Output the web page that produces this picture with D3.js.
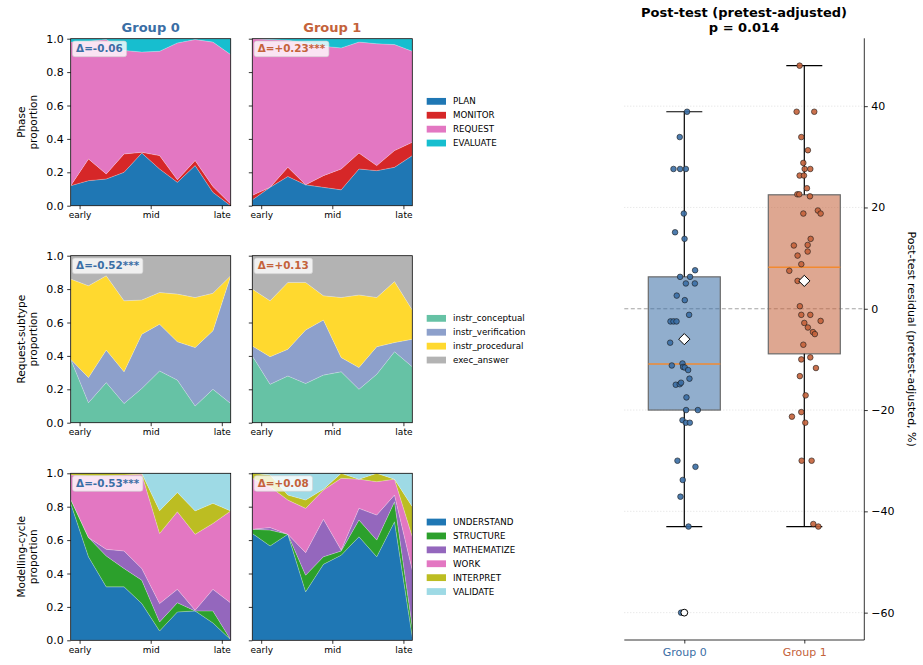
<!DOCTYPE html>
<html><head><meta charset="utf-8">
<script src="https://cdn.jsdelivr.net/npm/d3@7"></script>
<style>body{margin:0;background:#fff;} svg{display:block;font-family:"DejaVu Sans",sans-serif;}</style>
</head><body><svg id="c" width="923" height="665"></svg>
<script>
// ---------------- DATA ----------------
const groups = ["Group 0", "Group 1"];
const groupColors = ["#3a6ea5", "#c4623a"];
const timeTicks = ["early", "mid", "late"];
const timeTickPos = [0.5, 4.5, 8.5];
const yTicks = [0, 0.2, 0.4, 0.6, 0.8, 1.0];

const phaseKeys = ["PLAN", "MONITOR", "REQUEST", "EVALUATE"];
const phaseColors = ["#1f77b4", "#d62728", "#e377c2", "#17becf"];
const phaseG0 = {
  PLAN:     [0.12, 0.15, 0.16, 0.20, 0.315, 0.22, 0.14, 0.24, 0.08, 0.00],
  MONITOR:  [0.00, 0.13, 0.03, 0.11, 0.005, 0.08, 0.015, 0.03, 0.035, 0.01],
  REQUEST:  [0.86, 0.705, 0.805, 0.62, 0.60, 0.625, 0.82, 0.725, 0.865, 0.895],
  EVALUATE: [0.02, 0.015, 0.005, 0.07, 0.08, 0.075, 0.025, 0.005, 0.02, 0.095]
};
const phaseG1 = {
  PLAN:     [0.035, 0.11, 0.175, 0.125, 0.11, 0.095, 0.22, 0.21, 0.23, 0.30],
  MONITOR:  [0.027, 0.00, 0.055, 0.00, 0.07, 0.125, 0.095, 0.03, 0.10, 0.08],
  REQUEST:  [0.938, 0.885, 0.76, 0.85, 0.775, 0.725, 0.665, 0.73, 0.635, 0.545],
  EVALUATE: [0.00, 0.005, 0.01, 0.025, 0.045, 0.055, 0.02, 0.03, 0.035, 0.075]
};

const reqKeys = ["instr_conceptual", "instr_verification", "instr_procedural", "exec_answer"];
const reqColors = ["#66c2a5", "#8da0cb", "#ffd92f", "#b3b3b3"];
const reqG0 = {
  instr_conceptual:   [0.38, 0.12, 0.24, 0.115, 0.205, 0.31, 0.255, 0.10, 0.20, 0.115],
  instr_verification: [0.00, 0.15, 0.195, 0.19, 0.325, 0.28, 0.23, 0.35, 0.35, 0.765],
  instr_procedural:   [0.48, 0.55, 0.445, 0.425, 0.205, 0.19, 0.285, 0.30, 0.225, 0.00],
  exec_answer:        [0.14, 0.18, 0.12, 0.27, 0.265, 0.22, 0.23, 0.25, 0.225, 0.12]
};
const reqG1 = {
  instr_conceptual:   [0.40, 0.23, 0.28, 0.235, 0.285, 0.305, 0.20, 0.29, 0.425, 0.335],
  instr_verification: [0.06, 0.165, 0.16, 0.32, 0.33, 0.085, 0.13, 0.165, 0.055, 0.165],
  instr_procedural:   [0.34, 0.335, 0.40, 0.285, 0.145, 0.36, 0.435, 0.295, 0.365, 0.175],
  exec_answer:        [0.20, 0.27, 0.16, 0.16, 0.24, 0.25, 0.235, 0.25, 0.155, 0.325]
};

const cycKeys = ["UNDERSTAND", "STRUCTURE", "MATHEMATIZE", "WORK", "INTERPRET", "VALIDATE"];
const cycColors = ["#1f77b4", "#2ca02c", "#9467bd", "#e377c2", "#bcbd22", "#9edae5"];
const cycG0 = {
  UNDERSTAND:  [0.82, 0.50, 0.32, 0.32, 0.22, 0.056, 0.17, 0.176, 0.104, 0.004],
  STRUCTURE:   [0.025, 0.115, 0.185, 0.11, 0.14, 0.054, 0.055, 0.00, 0.072, 0.00],
  MATHEMATIZE: [0.00, 0.00, 0.04, 0.105, 0.07, 0.11, 0.08, 0.004, 0.129, 0.22],
  WORK:        [0.145, 0.37, 0.44, 0.455, 0.565, 0.42, 0.465, 0.455, 0.395, 0.551],
  INTERPRET:   [0.01, 0.015, 0.015, 0.01, 0.005, 0.136, 0.115, 0.14, 0.12, 0.00],
  VALIDATE:    [0.00, 0.00, 0.00, 0.00, 0.00, 0.224, 0.115, 0.225, 0.18, 0.225]
};
const cycG1 = {
  UNDERSTAND:  [0.64, 0.565, 0.635, 0.29, 0.455, 0.51, 0.62, 0.50, 0.71, 0.02],
  STRUCTURE:   [0.025, 0.095, 0.00, 0.10, 0.045, 0.025, 0.10, 0.10, 0.12, 0.06],
  MATHEMATIZE: [0.00, 0.015, 0.00, 0.135, 0.225, 0.005, 0.07, 0.15, 0.04, 0.34],
  WORK:        [0.305, 0.245, 0.205, 0.265, 0.175, 0.43, 0.175, 0.20, 0.095, 0.20],
  INTERPRET:   [0.03, 0.07, 0.03, 0.05, 0.005, 0.03, 0.00, 0.05, 0.00, 0.18],
  VALIDATE:    [0.00, 0.01, 0.13, 0.16, 0.095, 0.00, 0.035, 0.00, 0.035, 0.20]
};

const deltaG0 = ["Δ=-0.06", "Δ=-0.52***", "Δ=-0.53***"];
const deltaG1 = ["Δ=+0.23***", "Δ=+0.13", "Δ=+0.08"];
const rowLabels = [["Phase", "proportion"], ["Request-subtype", "proportion"], ["Modelling-cycle", "proportion"]];

// post-test residuals (pretest-adjusted, %)
const g0Vals = [38.9,33.9,27.6,27.6,27.6,18.8,15.1,13.8,7.6,6.3,6.3,5.0,5.0,2.6,1.7,-1.2,-2.5,-2.5,-2.5,-6.7,-11.2,-10.8,-11.5,-11.6,-12.1,-13.8,-15.0,-14.9,-14.6,-17.5,-20.0,-20.0,-22.0,-22.5,-22.5,-30.0,-31.2,-33.8,-37.1,-43.0,-60.0];
const g0Jit = [0.023,-0.038,-0.09,-0.035,0.013,-0.004,-0.077,0.002,0.09,-0.035,0.048,0.013,0.088,-0.063,0.004,0.04,-0.115,-0.09,-0.065,-0.118,-0.104,-0.015,-0.01,0.004,0.032,0.043,-0.071,-0.038,-0.027,0.018,0.015,0.113,-0.015,0.013,0.046,-0.057,0.093,-0.013,-0.032,0.035,-0.027];
const g1Vals = [48.0,38.9,38.9,33.9,31.3,28.8,27.6,27.6,26.3,26.3,23.8,22.6,22.6,22.2,18.8,19.4,18.8,13.8,12.5,12.6,11.3,10.5,8.8,7.5,5.5,0.5,-1.2,-1.2,-2.4,-2.8,-3.7,-4.6,-5.0,-7.1,-10.0,-9.6,-11.7,-13.3,-17.1,-20.4,-21.3,-22.5,-30.0,-30.0,-42.5,-43.0];
const g1Jit = [-0.039,-0.064,0.083,-0.025,0.03,-0.008,0.003,0.05,-0.039,-0.003,0.022,-0.058,-0.042,0.047,-0.008,0.113,0.136,0.053,-0.087,0.028,0.028,-0.056,-0.025,-0.125,-0.056,-0.037,-0.025,0.05,0.136,0,0.03,0.072,0.088,-0.008,-0.025,0.05,0.097,-0.037,0.011,-0.025,-0.103,0.008,-0.022,0.061,0.075,0.117];
const boxQ1 = [-20.0, -8.9];
const boxMedian = [-10.9, 8.2];
const boxQ3 = [6.3, 22.5];
const whiskLo = [-43.0, -43.0];
const whiskHi = [38.9, 48.0];
const boxMean = [-6.0, 5.5];
const fliers = [[-60.0], []];
const residTicks = [-60, -40, -20, 0, 20, 40];

// ---------------- DRAW ----------------
const svg = d3.select("#c");
const colX = [70.7, 252.3], panelW = 160;
const rowY = [38.7, 255.7, 473.3], panelH = 167;

const rowsDef = [
  {keys: phaseKeys, colors: phaseColors, data: [phaseG0, phaseG1]},
  {keys: reqKeys, colors: reqColors, data: [reqG0, reqG1]},
  {keys: cycKeys, colors: cycColors, data: [cycG0, cycG1]}
];
const deltas = [deltaG0, deltaG1];

rowsDef.forEach((row, r) => {
  const y0 = rowY[r];
  const y = d3.scaleLinear().domain([0, 1]).range([y0 + panelH, y0]);
  [0, 1].forEach(c => {
    const x0 = colX[c];
    const x = d3.scaleLinear().domain([0, 9]).range([x0, x0 + panelW]);
    const src = row.data[c];
    const table = d3.range(10).map(i => {
      const o = {i};
      row.keys.forEach(k => o[k] = src[k][i]);
      return o;
    });
    const series = d3.stack().keys(row.keys)(table);
    const area = d3.area().x(d => x(d.data.i)).y0(d => y(d[0])).y1(d => y(d[1]));
    const cid = `clip${r}${c}`;
    svg.append("clipPath").attr("id", cid).append("rect")
      .attr("x", x0).attr("y", y0).attr("width", panelW).attr("height", panelH);
    const g = svg.append("g").attr("clip-path", `url(#${cid})`);
    g.selectAll("path").data(series).join("path")
      .attr("d", area)
      .attr("fill", (d, i) => row.colors[i])
      .attr("stroke", "#ffffff").attr("stroke-width", 0.35).attr("stroke-opacity", 0.6);

    // axes
    const ya = d3.axisLeft(y).tickValues(yTicks).tickSize(3.5).tickPadding(3.5)
      .tickFormat(c === 0 ? d3.format(".1f") : () => "");
    const yg = svg.append("g").attr("transform", `translate(${x0},0)`).call(ya);
    yg.select(".domain").remove();
    yg.selectAll("text").attr("font-size", 11).attr("font-family", "DejaVu Sans").attr("fill", "#000");
    yg.selectAll("line").attr("stroke", "#000").attr("stroke-width", 0.8);

    const xa = d3.axisBottom(x).tickValues(timeTickPos).tickSize(3.5).tickPadding(2.5)
      .tickFormat((d, i) => timeTicks[i]);
    const xg = svg.append("g").attr("transform", `translate(0,${y0 + panelH})`).call(xa);
    xg.select(".domain").remove();
    xg.selectAll("text").attr("font-size", 9).attr("font-family", "DejaVu Sans").attr("fill", "#000");
    xg.selectAll("line").attr("stroke", "#000").attr("stroke-width", 0.8);

    svg.append("rect").attr("x", x0).attr("y", y0).attr("width", panelW).attr("height", panelH)
      .attr("fill", "none").attr("stroke", "#000").attr("stroke-width", 0.8);

    // delta annotation
    const ag = svg.append("g");
    const rect = ag.append("rect");
    const t = ag.append("text").attr("x", x0 + 5.4).attr("y", y0 + 13.4)
      .attr("font-size", 10.4).attr("font-weight", "bold").attr("fill", groupColors[c])
      .text(deltas[c][r]);
    const w = t.node().getComputedTextLength();
    rect.attr("x", x0 + 1.8).attr("y", y0 + 2.4).attr("width", w + 7.4).attr("height", 15.6)
      .attr("rx", 2.5).attr("fill", "#fff").attr("fill-opacity", 0.8)
      .attr("stroke", "#d0d0d0").attr("stroke-opacity", 0.8).attr("stroke-width", 0.8);
  });

  // row label
  const cy = y0 + panelH / 2;
  const lt = svg.append("text").attr("transform", `translate(24.5,${cy}) rotate(-90)`)
    .attr("text-anchor", "middle").attr("font-size", 10.5);
  lt.append("tspan").attr("x", 0).attr("y", 0).text(rowLabels[r][0]);
  lt.append("tspan").attr("x", 0).attr("y", 12.2).text(rowLabels[r][1]);

  // legend
  const n = row.keys.length, sp = 13.9;
  const first = cy - (n - 1) / 2 * sp;
  row.keys.forEach((k, i) => {
    const ly = first + i * sp;
    svg.append("rect").attr("x", 426.7).attr("y", ly - 3.4).attr("width", 19.3).attr("height", 6.8)
      .attr("fill", row.colors[i]);
    svg.append("text").attr("x", 453).attr("y", ly).attr("dy", "0.35em")
      .attr("font-size", 8.7).text(k);
  });
});

// group titles
[0, 1].forEach(c => {
  svg.append("text").attr("x", colX[c] + panelW / 2).attr("y", 31.5)
    .attr("text-anchor", "middle").attr("font-size", 13).attr("font-weight", "bold")
    .attr("fill", groupColors[c]).text(groups[c]);
});

// ---------------- BOX PLOT ----------------
const bx = d3.scaleLinear().domain([-0.5, 1.5]).range([624.3, 864.3]);
const by = d3.scaleLinear().domain([-65.4, 53.4]).range([640, 38.3]);
const bw = 0.6, capW = 0.3;

// grid
svg.append("g").selectAll("line").data(residTicks.filter(v => v !== 0)).join("line")
  .attr("x1", bx(-0.5)).attr("x2", bx(1.5)).attr("y1", d => by(d)).attr("y2", d => by(d))
  .attr("stroke", "#d8d8d8").attr("stroke-width", 0.8).attr("stroke-dasharray", "1,2");
svg.append("line").attr("x1", bx(-0.5)).attr("x2", bx(1.5)).attr("y1", by(0)).attr("y2", by(0))
  .attr("stroke", "#999").attr("stroke-width", 0.9).attr("stroke-dasharray", "4,2.5");

const vals = [g0Vals, g1Vals], jits = [g0Jit, g1Jit];
[0, 1].forEach(gi => {
  const col = groupColors[gi];
  // box
  svg.append("rect").attr("x", bx(gi - bw / 2)).attr("width", bx(bw) - bx(0))
    .attr("y", by(boxQ3[gi])).attr("height", by(boxQ1[gi]) - by(boxQ3[gi]))
    .attr("fill", col).attr("fill-opacity", 0.56)
    .attr("stroke", "#6a6a6a").attr("stroke-width", 1.2);
  // whiskers
  svg.append("line").attr("x1", bx(gi)).attr("x2", bx(gi)).attr("y1", by(boxQ3[gi])).attr("y2", by(whiskHi[gi]))
    .attr("stroke", "#000").attr("stroke-width", 1.2);
  svg.append("line").attr("x1", bx(gi)).attr("x2", bx(gi)).attr("y1", by(boxQ1[gi])).attr("y2", by(whiskLo[gi]))
    .attr("stroke", "#000").attr("stroke-width", 1.2);
  [whiskHi[gi], whiskLo[gi]].forEach(v => {
    svg.append("line").attr("x1", bx(gi - capW / 2)).attr("x2", bx(gi + capW / 2))
      .attr("y1", by(v)).attr("y2", by(v)).attr("stroke", "#000").attr("stroke-width", 1.2);
  });
  // median
  svg.append("line").attr("x1", bx(gi - bw / 2)).attr("x2", bx(gi + bw / 2))
    .attr("y1", by(boxMedian[gi])).attr("y2", by(boxMedian[gi]))
    .attr("stroke", "#f28a30").attr("stroke-width", 1.6);
  // points
  svg.append("g").selectAll("circle").data(vals[gi]).join("circle")
    .attr("cx", (d, i) => bx(gi + jits[gi][i])).attr("cy", d => by(d)).attr("r", 2.8)
    .attr("fill", col).attr("fill-opacity", 0.9).attr("stroke", "#1a1a1a").attr("stroke-width", 0.6);
  // fliers
  svg.append("g").selectAll("circle").data(fliers[gi]).join("circle")
    .attr("cx", bx(gi)).attr("cy", d => by(d)).attr("r", 3.4)
    .attr("fill", "#fff").attr("stroke", "#000").attr("stroke-width", 1);
  // mean
  const mx = bx(gi), my = by(boxMean[gi]), h = 5.6;
  svg.append("path").attr("d", `M${mx},${my - h}L${mx + h},${my}L${mx},${my + h}L${mx - h},${my}Z`)
    .attr("fill", "#fff").attr("stroke", "#000").attr("stroke-width", 1);
});

// axes
const ra = d3.axisRight(by).tickValues(residTicks).tickSize(3.5).tickPadding(3.5);
const rg = svg.append("g").attr("transform", `translate(${bx(1.5)},0)`).call(ra);
rg.select(".domain").remove();
rg.selectAll("text").attr("font-size", 11).attr("font-family", "DejaVu Sans").attr("fill", "#000");
rg.selectAll("line").attr("stroke", "#000").attr("stroke-width", 0.8);
svg.append("line").attr("x1", bx(1.5)).attr("x2", bx(1.5)).attr("y1", by.range()[1]).attr("y2", by.range()[0])
  .attr("stroke", "#000").attr("stroke-width", 0.8);

const ba = d3.axisBottom(bx).tickValues([0, 1]).tickSize(3.5).tickPadding(4.5).tickFormat((d, i) => groups[i]);
const bg = svg.append("g").attr("transform", `translate(0,${by.range()[0]})`).call(ba);
bg.select(".domain").remove();
bg.selectAll("text").attr("font-size", 11).attr("font-family", "DejaVu Sans").attr("fill", (d, i) => groupColors[i]);
bg.selectAll("line").attr("stroke", "#000").attr("stroke-width", 0.8);
svg.append("line").attr("x1", bx(-0.5)).attr("x2", bx(1.5)).attr("y1", by.range()[0]).attr("y2", by.range()[0])
  .attr("stroke", "#000").attr("stroke-width", 0.8);

svg.append("text").attr("transform", `translate(907.5,${(by.range()[0] + by.range()[1]) / 2}) rotate(90)`)
  .attr("text-anchor", "middle").attr("font-size", 11).text("Post-test residual (pretest-adjusted, %)");

const tt = svg.append("text").attr("text-anchor", "middle").attr("font-size", 13).attr("font-weight", "bold");
tt.append("tspan").attr("x", 744).attr("y", 17).text("Post-test (pretest-adjusted)");
tt.append("tspan").attr("x", 744).attr("y", 31.5).text("p = 0.014");
</script>
</body></html>
